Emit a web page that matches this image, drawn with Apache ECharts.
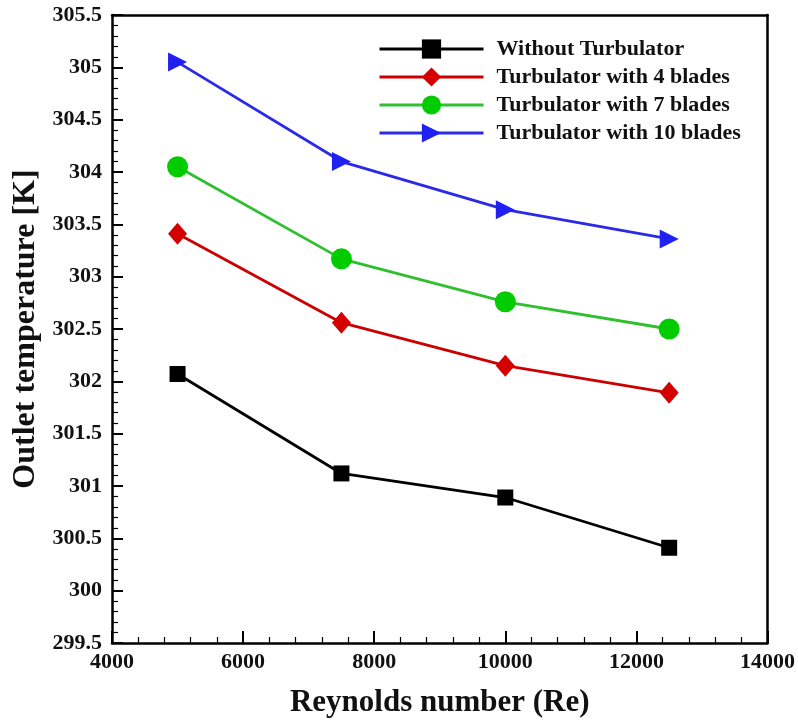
<!DOCTYPE html>
<html>
<head>
<meta charset="utf-8">
<script src="https://cdn.jsdelivr.net/npm/echarts@6/dist/echarts.min.js"></script>
<style>html,body{margin:0;padding:0;background:#fff}#c{width:798px;height:727px}</style>
</head>
<body>
<div id="c"></div>
<script>
var reynolds = [5000, 7500, 10000, 12500];
var withoutTurb = [302.07, 301.12, 300.89, 300.41];
var blades4 = [303.41, 302.56, 302.15, 301.89];
var blades7 = [304.05, 303.17, 302.76, 302.50];
var blades10 = [305.05, 304.10, 303.64, 303.36];
var seriesNames = ['Without Turbulator', 'Turbulator with 4 blades', 'Turbulator with 7 blades', 'Turbulator with 10 blades'];

function pairs(ys) { return reynolds.map(function (x, i) { return [x, ys[i]]; }); }

var font = '"Liberation Serif", "Times New Roman", serif';
var chart = echarts.init(document.getElementById('c'));
var axisLine = { show: true, lineStyle: { color: '#000', width: 2.5 } };
chart.setOption({
  animation: false,
  backgroundColor: '#fff',
  grid: { left: 112, right: 30, top: 15, bottom: 84 },
  legend: {
    orient: 'vertical', left: 373, top: 33,
    itemWidth: 104, itemHeight: 24, itemGap: 6,
    lineStyle: { width: 3 },
    textStyle: { fontFamily: font, fontWeight: 'bold', fontSize: 22, color: '#111', padding: [0, 0, 0, 8] },
    data: seriesNames
  },
  xAxis: [{
    type: 'value', min: 4000, max: 14000, interval: 2000,
    name: 'Reynolds number (Re)', nameLocation: 'middle', nameGap: 44,
    nameTextStyle: { fontFamily: font, fontWeight: 'bold', fontSize: 31, color: '#111' },
    axisLine: axisLine,
    axisTick: { show: true, inside: true, length: 12, lineStyle: { color: '#000', width: 2 } },
    minorTick: { show: true, splitNumber: 5, length: 6, lineStyle: { color: '#000', width: 1.2 } },
    axisLabel: { fontFamily: font, fontWeight: 'bold', fontSize: 22, color: '#111', margin: 8,
      formatter: function (v) { return String(v); } },
    splitLine: { show: false }
  }, {
    type: 'value', position: 'top', min: 4000, max: 14000, interval: 2000,
    axisLine: axisLine, axisTick: { show: false }, axisLabel: { show: false }, splitLine: { show: false }
  }],
  yAxis: [{
    type: 'value', min: 299.5, max: 305.5, interval: 0.5,
    name: 'Outlet temperature [K]', nameLocation: 'middle', nameGap: 70,
    nameTextStyle: { fontFamily: font, fontWeight: 'bold', fontSize: 32, color: '#111' },
    axisLine: axisLine,
    axisTick: { show: true, inside: true, length: 11, lineStyle: { color: '#000', width: 2 } },
    minorTick: { show: true, splitNumber: 5, length: 6, lineStyle: { color: '#000', width: 1.2 } },
    axisLabel: { fontFamily: font, fontWeight: 'bold', fontSize: 22, color: '#111', margin: 10 },
    splitLine: { show: false }
  }, {
    type: 'value', position: 'right', min: 299.5, max: 305.5, interval: 0.5,
    axisLine: axisLine, axisTick: { show: false }, axisLabel: { show: false }, splitLine: { show: false }
  }],
  series: [
    { name: seriesNames[0], type: 'line', data: pairs(withoutTurb), symbol: 'rect', symbolSize: 16,
      lineStyle: { color: '#000', width: 2.8 }, itemStyle: { color: '#000' } },
    { name: seriesNames[1], type: 'line', data: pairs(blades4), symbol: 'diamond', symbolSize: [19, 22],
      lineStyle: { color: '#cc0000', width: 2.8 }, itemStyle: { color: '#d40000' } },
    { name: seriesNames[2], type: 'line', data: pairs(blades7), symbol: 'circle', symbolSize: 21,
      lineStyle: { color: '#2fbf2f', width: 2.8 }, itemStyle: { color: '#00cc00' } },
    { name: seriesNames[3], type: 'line', data: pairs(blades10), symbol: 'triangle', symbolSize: [19, 19], symbolRotate: -90,
      lineStyle: { color: '#2a2ae8', width: 2.8 }, itemStyle: { color: '#2020f0' } }
  ]
});
</script>
</body>
</html>
